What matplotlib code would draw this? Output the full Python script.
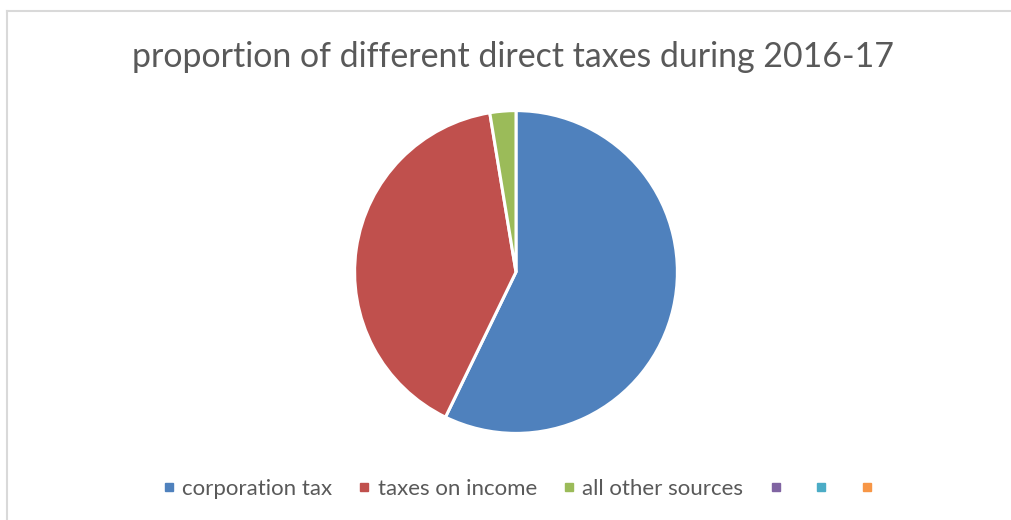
import matplotlib.pyplot as plt
from matplotlib.lines import Line2D

# proportion of direct taxes 2016-17 (percent)
labels = ["corporation tax", "taxes on income", "all other sources"]
shares = [57.2, 40.2, 2.6]
colors = ["#4F81BD", "#C0504D", "#9BBB59"]
# empty legend entries shown in the original
extra_colors = ["#8064A2", "#4BACC6", "#F79646"]

plt.rcParams["font.family"] = ["Lato", "DejaVu Sans"]

W, H = 1012, 520
fig = plt.figure(figsize=(W / 100, H / 100), dpi=100)
fig.patch.set_facecolor("white")

# light grey chart border (top and left edges visible)
fig.add_artist(Line2D([7 / W, 1.0], [1 - 10.5 / H, 1 - 10.5 / H], color="#D9D9D9", lw=1.5))
fig.add_artist(Line2D([7 / W, 7 / W], [0, 1 - 10.5 / H], color="#D9D9D9", lw=1.5))

fig.text(513 / W, 1 - 57 / H, "proportion of different direct taxes during 2016-17",
         ha="center", va="center", fontsize=24.4, color="#595959")

cx, cy, r = 516, 272, 163
ax = fig.add_axes([(cx - r) / W, 1 - (cy + r) / H, 2 * r / W, 2 * r / H])
ax.pie(shares, colors=colors, startangle=90, counterclock=False,
       wedgeprops=dict(edgecolor="white", linewidth=2.2))
ax.set_xlim(-1.01, 1.01)
ax.set_ylim(-1.01, 1.01)
ax.set_aspect("equal")
ax.axis("off")

handles = [Line2D([], [], marker="s", ls="", markersize=5.2, color=c) for c in colors + extra_colors]
leg_labels = labels + ["", "", ""]
fig.legend(handles, leg_labels, loc="center", bbox_to_anchor=(521 / W, 1 - 489 / H),
           ncol=6, frameon=False, fontsize=16, labelcolor="#595959",
           handlelength=0.6, handletextpad=0.3, columnspacing=1.15)

fig.savefig("out.png", dpi=100)
